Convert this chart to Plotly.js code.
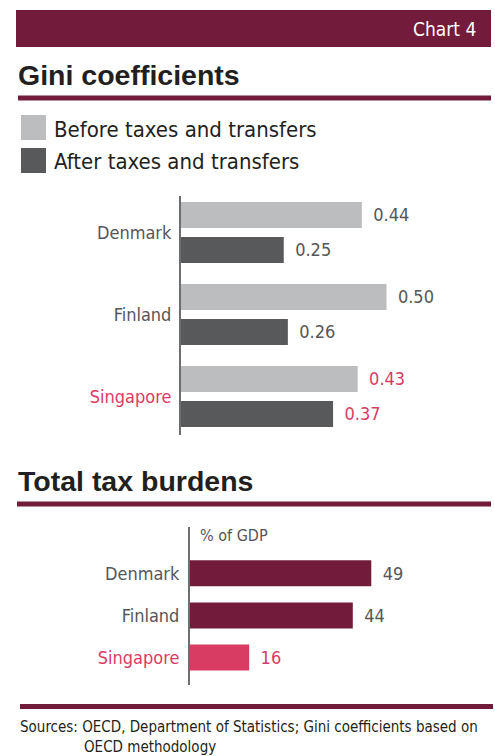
<!DOCTYPE html>
<html>
<head>
<meta charset="utf-8">
<script src="https://cdn.plot.ly/plotly-3.0.1.min.js"></script>
<style>html,body{margin:0;padding:0;background:#fff;}#chart{width:495px;height:756px;}</style>
</head>
<body>
<div id="chart"></div>
<script>
// ---- data ----
var countries = ['Denmark', 'Finland', 'Singapore'];
var giniBefore = [0.44, 0.50, 0.43];
var giniAfter = [0.25, 0.26, 0.37];
var taxBurden = [49, 44, 16];
var seriesNames = ['Before taxes and transfers', 'After taxes and transfers'];
var highlight = 'Singapore';

// ---- styles ----
var W = 495, H = 756;
var NARROW = '"DejaVu Sans Condensed", "Liberation Sans Narrow", sans-serif';
var BOLD = '"Liberation Sans", Arial, sans-serif';
var MAROON = '#731b3b', PINK = '#d83c63', LIGHT = '#bcbdbf', DARK = '#58595b', LABEL = '#555658';
function py(p) { return 1 - p / H; }
function px(p) { return p / W; }

var tickText = countries.map(function (c) {
  return c === highlight ? '<span style="color:' + PINK + '">' + c + '</span>' : c;
});
var labelColors = countries.map(function (c) { return c === highlight ? PINK : LABEL; });
var taxColors = countries.map(function (c) { return c === highlight ? PINK : MAROON; });
var PAD = '\u00a0\u2009';

var traces = [
  {
    type: 'bar', orientation: 'h', name: seriesNames[0],
    y: countries, x: giniBefore, xaxis: 'x', yaxis: 'y',
    marker: { color: LIGHT },
    texttemplate: PAD + '%{x:.2f}', textposition: 'outside', cliponaxis: false,
    constraintext: 'none',
    textfont: { family: NARROW, size: 18, color: labelColors },
    hoverinfo: 'skip', showlegend: false
  },
  {
    type: 'bar', orientation: 'h', name: seriesNames[1],
    y: countries, x: giniAfter, xaxis: 'x', yaxis: 'y',
    marker: { color: DARK },
    texttemplate: PAD + '%{x:.2f}', textposition: 'outside', cliponaxis: false,
    constraintext: 'none',
    textfont: { family: NARROW, size: 18, color: labelColors },
    hoverinfo: 'skip', showlegend: false
  },
  {
    type: 'bar', orientation: 'h', name: 'Total tax burden',
    y: countries, x: taxBurden, xaxis: 'x2', yaxis: 'y2',
    marker: { color: taxColors }, width: 26 / 42.1,
    texttemplate: PAD + '%{x}', textposition: 'outside', cliponaxis: false,
    constraintext: 'none',
    textfont: { family: NARROW, size: 18, color: labelColors },
    hoverinfo: 'skip', showlegend: false
  }
];

var shapes = [
  // header bar
  { type: 'rect', xref: 'paper', yref: 'paper', x0: px(16), x1: px(491), y0: py(10), y1: py(47), fillcolor: MAROON, line: { width: 0 } },
  // underlines
  { type: 'rect', xref: 'paper', yref: 'paper', x0: px(18), x1: px(491), y0: py(95.5), y1: py(100.5), fillcolor: MAROON, line: { width: 0 } },
  { type: 'rect', xref: 'paper', yref: 'paper', x0: px(17), x1: px(491), y0: py(501.5), y1: py(506.5), fillcolor: MAROON, line: { width: 0 } },
  { type: 'rect', xref: 'paper', yref: 'paper', x0: px(20), x1: px(493), y0: py(704), y1: py(709), fillcolor: MAROON, line: { width: 0 } },
  // legend swatches
  { type: 'rect', xref: 'paper', yref: 'paper', x0: px(21), x1: px(46), y0: py(115), y1: py(140), fillcolor: LIGHT, line: { width: 0 } },
  { type: 'rect', xref: 'paper', yref: 'paper', x0: px(21), x1: px(46), y0: py(148), y1: py(173), fillcolor: DARK, line: { width: 0 } }
];

var annotations = [
  { text: 'Chart 4', xref: 'paper', yref: 'paper', x: px(478), y: py(29), xanchor: 'right', yanchor: 'middle', showarrow: false,
    font: { family: NARROW, size: 19, color: '#ffffff' } },
  { text: '<b>Gini coefficients</b>', xref: 'paper', yref: 'paper', x: px(16), y: py(75), xanchor: 'left', yanchor: 'middle', showarrow: false,
    font: { family: BOLD, size: 28.5, color: '#231f20' } },
  { text: seriesNames[0], xref: 'paper', yref: 'paper', x: px(52), y: py(129), xanchor: 'left', yanchor: 'middle', showarrow: false,
    font: { family: NARROW, size: 22, color: '#231f20' } },
  { text: seriesNames[1], xref: 'paper', yref: 'paper', x: px(52), y: py(161), xanchor: 'left', yanchor: 'middle', showarrow: false,
    font: { family: NARROW, size: 22, color: '#231f20' } },
  { text: '<b>Total tax burdens</b>', xref: 'paper', yref: 'paper', x: px(16), y: py(481), xanchor: 'left', yanchor: 'middle', showarrow: false,
    font: { family: BOLD, size: 28.5, color: '#231f20' } },
  { text: '% of GDP', xref: 'paper', yref: 'paper', x: px(198), y: py(535), xanchor: 'left', yanchor: 'middle', showarrow: false,
    font: { family: NARROW, size: 16, color: LABEL } },
  { text: 'Sources: OECD, Department of Statistics; Gini coefficients based on', xref: 'paper', yref: 'paper', x: px(18), y: py(727), xanchor: 'left', yanchor: 'middle', showarrow: false,
    font: { family: NARROW, size: 15, color: '#231f20' } },
  { text: 'OECD methodology', xref: 'paper', yref: 'paper', x: px(82), y: py(747), xanchor: 'left', yanchor: 'middle', showarrow: false,
    font: { family: NARROW, size: 15, color: '#231f20' } }
];

var axisFont = { family: NARROW, size: 18, color: LABEL };

var layout = {
  width: W, height: H,
  margin: { l: 0, r: 0, t: 0, b: 0, pad: 0 },
  paper_bgcolor: '#ffffff', plot_bgcolor: '#ffffff',
  showlegend: false,
  barmode: 'group', bargap: 0.146, bargroupgap: 0.257,
  xaxis: {
    domain: [px(181), px(181 + 0.7 * 411)], range: [0, 0.7],
    showgrid: false, zeroline: false, showline: false, showticklabels: false, ticks: '', fixedrange: true
  },
  yaxis: {
    domain: [py(435), py(196)], range: [2.47, -0.445], type: 'category',
    tickmode: 'array', tickvals: countries, ticktext: tickText,
    showgrid: false, zeroline: false, showline: true, linecolor: '#6d6e70', linewidth: 2,
    ticks: '', ticklabelstandoff: 4, tickfont: axisFont, fixedrange: true
  },
  xaxis2: {
    anchor: 'y2', domain: [px(190), px(190 + 80 * 3.7)], range: [0, 80],
    showgrid: false, zeroline: false, showline: false, showticklabels: false, ticks: '', fixedrange: true
  },
  yaxis2: {
    anchor: 'x2', domain: [py(685), py(527)], range: [2.65, -1.1], type: 'category',
    tickmode: 'array', tickvals: countries, ticktext: tickText,
    showgrid: false, zeroline: false, showline: true, linecolor: '#6d6e70', linewidth: 2,
    ticks: '', ticklabelstandoff: 5, tickfont: axisFont, fixedrange: true
  },
  shapes: shapes,
  annotations: annotations
};

Plotly.newPlot('chart', traces, layout, { displayModeBar: false, staticPlot: true });
</script>
</body>
</html>
